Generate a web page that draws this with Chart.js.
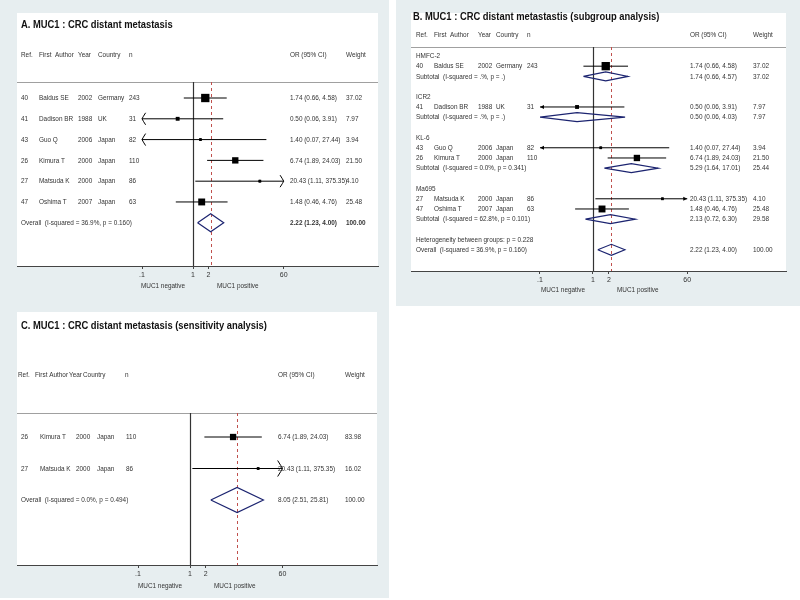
<!DOCTYPE html>
<html>
<head>
<meta charset="utf-8">
<script src="https://cdn.jsdelivr.net/npm/chart.js@4.4.1/dist/chart.umd.min.js"></script>
<style>
  html, body { margin: 0; padding: 0; background: #fff; }
  body { width: 800px; height: 600px; position: relative; overflow: hidden; }
  .bg { position: absolute; background: #e7eef0; }
  canvas { position: absolute; }
</style>
</head>
<body>
<div class="bg" style="left:0;top:0;width:389px;height:598px"></div>
<div class="bg" style="left:396px;top:0;width:404px;height:306px"></div>
<canvas id="forestA" width="389" height="298" style="left:0;top:0"></canvas>
<canvas id="forestB" width="404" height="306" style="left:396px;top:0"></canvas>
<canvas id="forestC" width="389" height="300" style="left:0;top:298px"></canvas>
<script>
// studies
const REFS      = [40, 41, 43, 26, 27, 47];
const AUTHORS   = ['Baldus SE', 'Dadison BR', 'Guo Q', 'Kimura T', 'Matsuda K', 'Oshima T'];
const YEARS     = [2002, 1988, 2006, 2000, 2000, 2007];
const COUNTRIES = ['Germany', 'UK', 'Japan', 'Japan', 'Japan', 'Japan'];
const N         = [243, 31, 82, 110, 86, 63];
const OR        = [1.74, 0.50, 1.40, 6.74, 20.43, 1.48];
const OR_LO     = [0.66, 0.06, 0.07, 1.89, 1.11, 0.46];
const OR_HI     = [4.58, 3.91, 27.44, 24.03, 375.35, 4.76];
const WEIGHT    = [37.02, 7.97, 3.94, 21.50, 4.10, 25.48];

// pooled, all studies
const OVERALL_OR = 2.22, OVERALL_LO = 1.23, OVERALL_HI = 4.00;
const OVERALL_I2 = '36.9%', OVERALL_P = '0.160';

// subgroups (panel B)
const GROUPS        = ['HMFC-2', 'ICR2', 'KL-6', 'Ma695'];
const GROUP_MEMBERS = [[0], [1], [2, 3], [4, 5]];
const SUB_OR = [1.74, 0.50, 5.29, 2.13];
const SUB_LO = [0.66, 0.06, 1.64, 0.72];
const SUB_HI = [4.57, 4.03, 17.01, 6.30];
const SUB_W  = [37.02, 7.97, 25.44, 29.58];
const SUB_I2 = ['.%', '.%', '0.0%', '62.8%'];
const SUB_P  = ['.', '.', '0.341', '0.101'];
const HET_P  = '0.228';

// sensitivity (panel C)
const SENS_IDX    = [3, 4];
const SENS_WEIGHT = [83.98, 16.02];
const SENS_OR = 8.05, SENS_LO = 2.51, SENS_HI = 25.81;
const SENS_I2 = '0.0%', SENS_P = '0.494';

const X_TICKS = [0.1, 1, 2, 60];
const WIN = [0.1, 60];   // plot window, CIs past it get arrows

const TITLES = [
  'A. MUC1 : CRC distant metastasis',
  'B. MUC1 : CRC distant metastastis (subgroup analysis)',
  'C. MUC1 : CRC distant metastasis (sensitivity analysis)',
];
const HEAD   = ['Ref.', 'First  Author', 'Year', 'Country', 'n', 'OR (95% CI)', 'Weight'];
const HEAD_C = ['Ref.', 'First Author', 'Year', 'Country', 'n', 'OR (95% CI)', 'Weight'];

const FONT = '"Liberation Sans", Arial, sans-serif';
const BODY = 6.4;
const STRETCH = 1.25;   // the source image text is taller than it is wide
const TXT = '#333';
const NAVY = '#1c2470';
const RED = '#c0504d';

const fmt = v => v.toFixed(2);
const orText = (o, l, h) => `${fmt(o)} (${fmt(l)}, ${fmt(h)})`;

function studyCells(i, cols, w) {
    return [
        [cols[0], REFS[i]], [cols[1], AUTHORS[i]], [cols[2], YEARS[i]],
        [cols[3], COUNTRIES[i]], [cols[4], N[i]],
        [cols[5], orText(OR[i], OR_LO[i], OR_HI[i])], [cols[6], fmt(w)],
    ];
}

function txt(ctx, s, x, y, o = {}) {
    ctx.save();
    ctx.font = `${o.bold ? 'bold ' : ''}${o.size || BODY}px ${FONT}`;
    ctx.fillStyle = o.color || TXT;
    ctx.textAlign = o.align || 'left';
    ctx.textBaseline = 'middle';
    ctx.translate(x, y);
    ctx.scale(1, o.stretch || STRETCH);
    ctx.fillText(String(s), 0, 0);
    ctx.restore();
}

function arrow(ctx, x, y, dir, style, s) {
    ctx.beginPath();
    if (style === 'solid') {
        ctx.moveTo(x, y);
        ctx.lineTo(x - dir * 4, y - 2);
        ctx.lineTo(x - dir * 4, y + 2);
        ctx.closePath();
        ctx.fill();
    } else {
        ctx.moveTo(x - dir * s * 0.6, y - s);
        ctx.quadraticCurveTo(x - dir * 1, y - 2, x, y);
        ctx.quadraticCurveTo(x - dir * 1, y + 2, x - dir * s * 0.6, y + s);
        ctx.stroke();
    }
}

function forest(id, p) {
    const ci = [], dia = [], sq = [], sqR = [];
    p.marks.forEach(m => {
        ci.push({ x: Math.max(m.lo, WIN[0]), y: m.row }, { x: Math.min(m.hi, WIN[1]), y: m.row }, { x: m.or, y: null });
        sq.push({ x: m.or, y: m.row });
        sqR.push(p.boxK * Math.sqrt(m.w) / Math.SQRT2);
    });
    p.diamonds.forEach(d => {
        const lo = Math.max(d.lo, WIN[0]), hi = Math.min(d.hi, WIN[1]);
        dia.push({ x: lo, y: d.row }, { x: d.or, y: d.row - d.h }, { x: hi, y: d.row },
                 { x: d.or, y: d.row + d.h }, { x: lo, y: d.row }, { x: d.or, y: null });
    });

    const decor = {
        id: 'decor',
        beforeDraw(chart) {
            const { ctx, chartArea: a } = chart;
            ctx.save();
            ctx.fillStyle = '#fff';
            ctx.fillRect(a.left, p.panelTop, a.right - a.left, a.bottom - p.panelTop);
            ctx.restore();
        },
        beforeDatasetsDraw(chart) {
            const { ctx, chartArea: a, scales: { x } } = chart;
            ctx.save();
            ctx.lineWidth = 1;
            ctx.strokeStyle = '#a0a0a0';
            ctx.beginPath();
            ctx.moveTo(a.left, a.top + 0.5);
            ctx.lineTo(a.right, a.top + 0.5);
            ctx.stroke();
            const x1 = Math.round(x.getPixelForValue(1)) + 0.5;
            ctx.strokeStyle = '#333';
            ctx.lineWidth = 1.2;
            ctx.beginPath();
            ctx.moveTo(x1, a.top);
            ctx.lineTo(x1, a.bottom);
            ctx.stroke();
            const xp = Math.round(x.getPixelForValue(p.pooled)) + 0.5;
            ctx.strokeStyle = RED;
            ctx.lineWidth = 1;
            ctx.setLineDash([3, 3]);
            ctx.beginPath();
            ctx.moveTo(xp, a.top);
            ctx.lineTo(xp, a.bottom);
            ctx.stroke();
            ctx.restore();
        },
        afterDraw(chart) {
            const { ctx, scales: { x, y } } = chart;
            ctx.save();
            ctx.strokeStyle = '#000';
            ctx.fillStyle = '#000';
            ctx.lineWidth = 1;
            p.marks.forEach(m => {
                const py = y.getPixelForValue(m.row);
                if (m.lo < WIN[0]) arrow(ctx, x.getPixelForValue(WIN[0]), py, -1, p.arrow, p.arrowSize);
                if (m.hi > WIN[1]) arrow(ctx, x.getPixelForValue(WIN[1]), py, 1, p.arrow, p.arrowSize);
            });
            txt(ctx, p.title[0], p.title[1], p.title[2], { bold: true, size: 9.4, color: '#111', stretch: 1.15 });
            p.headText.forEach((h, i) => txt(ctx, h, p.head[i], p.headerY));
            p.texts.forEach(row => {
                const py = y.getPixelForValue(row.r);
                row.cells.forEach(c => txt(ctx, c[1], c[0], py, c[2]));
            });
            const x1 = x.getPixelForValue(1);
            txt(ctx, 'MUC1 negative', x1 - 8, p.labelY, { align: 'right' });
            txt(ctx, 'MUC1 positive', x1 + 24, p.labelY);
            ctx.restore();
        },
    };

    new Chart(document.getElementById(id), {
        type: 'scatter',
        data: {
            datasets: [
                { type: 'line', data: ci, borderColor: '#000', borderWidth: 1, pointRadius: 0, showLine: true, spanGaps: false },
                { type: 'line', data: dia, borderColor: NAVY, borderWidth: 1.2, pointRadius: 0, showLine: true, spanGaps: false, fill: false, tension: 0 },
                { data: sq, pointStyle: 'rect', pointRadius: sqR, backgroundColor: '#000', borderWidth: 0 },
                { data: sq, pointStyle: 'circle', pointRadius: 1.3, backgroundColor: '#000', borderWidth: 0 },
            ],
        },
        options: {
            responsive: false,
            animation: false,
            events: [],
            layout: { padding: { left: p.pad[0], right: p.pad[1], top: p.pad[2], bottom: 0 } },
            plugins: { legend: { display: false }, tooltip: { enabled: false } },
            scales: {
                x: {
                    type: 'logarithmic',
                    bounds: 'data',
                    min: p.xMin, max: p.xMax,
                    afterBuildTicks: s => { s.ticks = X_TICKS.map(v => ({ value: v })); },
                    afterFit: s => { s.height = p.axisH; },
                    ticks: {
                        autoSkip: false, maxRotation: 0, padding: 2, color: TXT,
                        font: { family: FONT, size: 7 },
                        callback: v => (v < 1 ? String(v).replace(/^0/, '') : String(v)),
                    },
                    grid: { drawOnChartArea: false, drawTicks: true, tickLength: 3, color: '#444' },
                    border: { color: '#444', width: 1 },
                },
                y: { type: 'linear', reverse: true, min: p.yMin, max: p.yMax, display: false },
            },
        },
        plugins: [decor],
    });
}

// ---- panel A ----
const colsA = [21, 39, 78, 98, 129, 290, 346];
const marksA = [], textsA = [];
REFS.forEach((_, i) => {
    marksA.push({ row: i, or: OR[i], lo: OR_LO[i], hi: OR_HI[i], w: WEIGHT[i] });
    textsA.push({ r: i, cells: studyCells(i, colsA, WEIGHT[i]) });
});
textsA.push({ r: 6, cells: [
    [colsA[0], `Overall  (I-squared = ${OVERALL_I2}, p = ${OVERALL_P})`],
    [colsA[5], orText(OVERALL_OR, OVERALL_LO, OVERALL_HI), { bold: true }],
    [colsA[6], '100.00', { bold: true }],
] });
forest('forestA', {
    panelTop: 13, pad: [17, 11, 82], axisH: 32,
    xMin: 3.54e-4, xMax: 4236, yMin: -0.77, yMax: 8.08,
    boxK: 1.37, arrow: 'open', arrowSize: 6, pooled: OVERALL_OR,
    title: [TITLES[0], 21, 25], headerY: 55, head: colsA, headText: HEAD, labelY: 286,
    marks: marksA, texts: textsA,
    diamonds: [{ row: 6, or: OVERALL_OR, lo: OVERALL_LO, hi: OVERALL_HI, h: 0.43 }],
});

// ---- panel B ----
const colsB = [20, 38, 82, 100, 131, 294, 357];
const marksB = [], textsB = [], diamondsB = [];
let r = 0;
GROUPS.forEach((g, gi) => {
    textsB.push({ r, cells: [[colsB[0], g]] });
    r++;
    GROUP_MEMBERS[gi].forEach(i => {
        marksB.push({ row: r, or: OR[i], lo: OR_LO[i], hi: OR_HI[i], w: WEIGHT[i] });
        textsB.push({ r, cells: studyCells(i, colsB, WEIGHT[i]) });
        r++;
    });
    diamondsB.push({ row: r, or: SUB_OR[gi], lo: SUB_LO[gi], hi: SUB_HI[gi], h: 0.44 });
    textsB.push({ r, cells: [
        [colsB[0], `Subtotal  (I-squared = ${SUB_I2[gi]}, p = ${SUB_P[gi]})`],
        [colsB[5], orText(SUB_OR[gi], SUB_LO[gi], SUB_HI[gi])],
        [colsB[6], fmt(SUB_W[gi])],
    ] });
    r += 2;
});
textsB.push({ r, cells: [[colsB[0], `Heterogeneity between groups: p = ${HET_P}`]] });
r++;
diamondsB.push({ row: r, or: OVERALL_OR, lo: OVERALL_LO, hi: OVERALL_HI, h: 0.54 });
textsB.push({ r, cells: [
    [colsB[0], `Overall  (I-squared = ${OVERALL_I2}, p = ${OVERALL_P})`],
    [colsB[5], orText(OVERALL_OR, OVERALL_LO, OVERALL_HI)],
    [colsB[6], '100.00'],
] });
forest('forestB', {
    panelTop: 13, pad: [15, 14, 47], axisH: 35,
    xMin: 3.68e-4, xMax: 4385, yMin: -0.88, yMax: 21.08,
    boxK: 1.37, arrow: 'solid', arrowSize: 2, pooled: OVERALL_OR,
    title: [TITLES[1], 17, 17], headerY: 35, head: colsB, headText: HEAD, labelY: 290,
    marks: marksB, texts: textsB, diamonds: diamondsB,
});

// ---- panel C ----
const colsC = [21, 40, 76, 97, 126, 278, 345];
const marksC = [], textsC = [];
SENS_IDX.forEach((i, k) => {
    marksC.push({ row: k, or: OR[i], lo: OR_LO[i], hi: OR_HI[i], w: SENS_WEIGHT[k] });
    textsC.push({ r: k, cells: studyCells(i, colsC, SENS_WEIGHT[k]) });
});
textsC.push({ r: 2, cells: [
    [colsC[0], `Overall  (I-squared = ${SENS_I2}, p = ${SENS_P})`],
    [colsC[5], orText(SENS_OR, SENS_LO, SENS_HI)],
    [colsC[6], '100.00'],
] });
forest('forestC', {
    panelTop: 14, pad: [17, 12, 115], axisH: 33,
    xMin: 4.71e-4, xMax: 3945, yMin: -0.762, yMax: 4.063,
    boxK: 0.69, arrow: 'open', arrowSize: 8, pooled: SENS_OR,
    title: [TITLES[2], 21, 28], headerY: 77, head: [18, 35, 69, 83, 125, 278, 345], headText: HEAD_C, labelY: 288,
    marks: marksC, texts: textsC,
    diamonds: [{ row: 2, or: SENS_OR, lo: SENS_LO, hi: SENS_HI, h: 0.4 }],
});
</script>
</body>
</html>
